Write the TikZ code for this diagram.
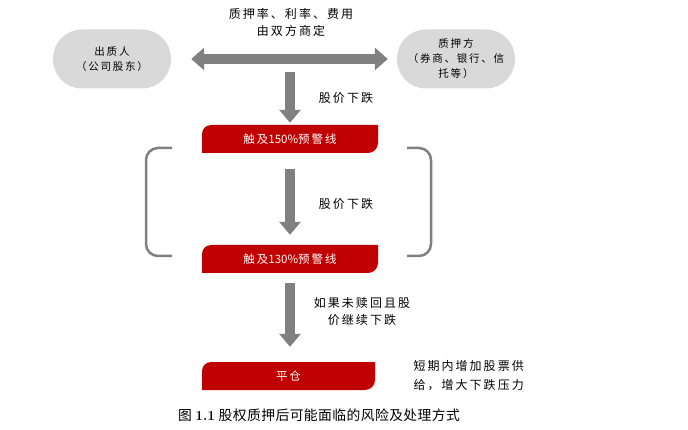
\documentclass[tikz,border=0pt]{standalone}
\usepackage{fontspec}
\usetikzlibrary{arrows.meta}

\newfontfamily\cjk[LetterSpace=17]{Noto Sans CJK SC}
\newfontfamily\cjkplain{Noto Sans CJK SC}
\newfontfamily\cjkcap[LetterSpace=3]{Noto Sans CJK SC}

\definecolor{tabred}{HTML}{C00000}
\definecolor{arrowgray}{HTML}{808080}
\definecolor{pillgray}{HTML}{D9D9D9}

\begin{document}
\begin{tikzpicture}[x=1pt,y=-1pt,
  pill/.style={fill=pillgray,rounded corners=29pt,minimum width=118pt,
    minimum height=59pt,align=center,font=\cjk\fontsize{10.5}{15}\selectfont},
  note/.style={align=center,font=\cjk\fontsize{12}{17}\selectfont},
  alertbox/.style={minimum width=176pt,minimum height=28pt,text=white,
    font=\cjk\fontsize{11.5}{12}\selectfont,
    path picture={
      \fill[tabred] (path picture bounding box.south west)
        -- ([yshift=-9pt]path picture bounding box.north west)
        arc[start angle=180,end angle=90,radius=9pt]
        -- (path picture bounding box.north east)
        -- ([yshift=10pt]path picture bounding box.south east)
        arc[start angle=0,end angle=-90,radius=10pt]
        -- cycle;}},
  fatarrow/.style={draw=arrowgray,line width=10pt,
    -{Triangle[width=21pt,length=13pt]}},
  bracket/.style={draw=arrowgray,line width=2.5pt,rounded corners=12pt}]

\useasboundingbox (0,0) rectangle (688,430);

% Parties
\node (pledgor) [pill] at (112,59)
{出质人\\（公司股东）};

\node (pledgee) [pill] at (456,59)
{质押方\\（券商、银行、信\\托等）};

% Terms agreed by both
\node (terms) [note] at (291,22)
{质押率、利率、费用\\由双方商定};

\draw[fatarrow,{Triangle[width=22pt,length=13pt]}-{Triangle[width=22pt,length=13pt]},
  shorten <=20pt,shorten >=9pt] (pledgor.east) -- (pledgee.west);

% First warning line
\coordinate (drop) at (290,72);

\node (warn1) [alertbox] at (290,139)
{触及{\cjkplain 150\%}预警线};

\draw[fatarrow,shorten >=2pt] (drop) -- (warn1);

\node (fall1) [note] at (346,98)
{股价下跌};

% Second warning line
\node (warn2) [alertbox] at (290,259)
{触及{\cjkplain 130\%}预警线};

\draw[fatarrow,shorten <=16pt,shorten >=10pt] (warn1) -- (warn2);

\node (fall2) [note] at (346,204)
{股价下跌};

% Brackets
\draw[bracket] (172,148) -- (146,148) -- (146,256) -- (172,256);
\draw[bracket] (407,148) -- (431,148) -- (431,256) -- (407,256);

% Forced sale
\node (close) [alertbox,minimum width=173pt] at (288.5,376)
{平仓};

\draw[fatarrow,shorten <=10pt,shorten >=15pt] (warn2) -- (warn2 |- close.north);

\node (margin) [note] at (362,311)
{如果未赎回且股\\价继续下跌};

\node (supply) [note,anchor=west,align=left,font=\cjk\fontsize{12}{19}\selectfont] at (410,376)
{短期内增加股票供\\给，增大下跌压力};

% Caption
\node (caption) at (319,415)
{\cjkcap\fontsize{13.8}{15}\selectfont 图 {\rmfamily\bfseries 1.1} 股权质押后可能面临的风险及处理方式};

\end{tikzpicture}
\end{document}
